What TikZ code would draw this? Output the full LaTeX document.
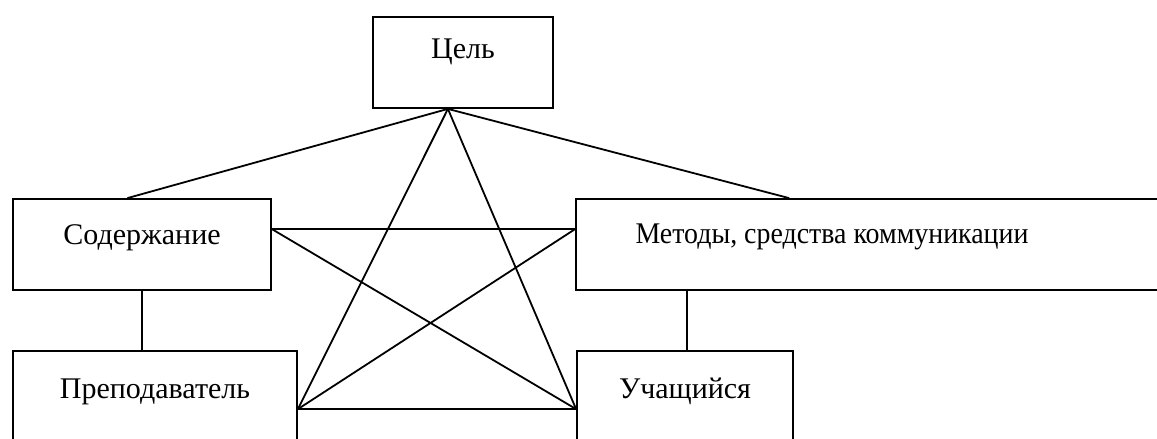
\documentclass[tikz,border=0pt]{standalone}
\usepackage{fontspec}
\setmainfont{Liberation Serif}
\usetikzlibrary{calc}
\begin{document}
\begin{tikzpicture}[x=1pt,y=-1pt,
  box/.style={draw,line width=1.8pt,rectangle,inner sep=0pt,minimum height=91pt,
    font=\fontsize{30}{32}\selectfont,text height=20pt,text depth=20pt},
  lbl/.style={inner sep=0pt,font=\fontsize{30}{32}\selectfont,anchor=base},
  link/.style={line width=1.8pt}]
\useasboundingbox (0,0) rectangle (1157,439);
\clip (0,0) rectangle (1157,439);
\node[box,minimum width=180pt,text depth=28pt] (c) at (463,62.5) {Цель};
\node[box,minimum width=258pt] (s) at (142,244.5) {Содержание};
\node[box,minimum width=594pt] (m) at (873,244.5) {};
\node[lbl] (mt) at (832,243) {\scalebox{0.93}[1]{Методы, средства коммуникации}};
\node[box,minimum width=284pt,minimum height=94pt] (p) at (155,398) {Преподаватель};
\node[box,minimum width=216pt,minimum height=94pt] (u) at (685,398) {Учащийся};
\coordinate (apex) at ($(c.south west)!0.417!(c.south east)$);
\coordinate (stop) at ($(s.north west)!0.444!(s.north east)$);
\coordinate (mtop) at ($(m.north west)+(214,0)$);
\coordinate (sr) at ($(s.north east)+(0,31)$);
\coordinate (ml) at ($(m.north west)+(0,31)$);
\coordinate (pr) at ($(p.north east)+(0,59)$);
\coordinate (ul) at ($(u.north west)+(0,59)$);
\coordinate (mb) at ($(m.south west)+(112,0)$);
\draw[link] (apex) -- (stop);
\draw[link] (apex) -- (mtop);
\draw[link] (apex) -- (pr);
\draw[link] (apex) -- (ul);
\draw[link] (sr) -- (ml);
\draw[link] (sr) -- (ul);
\draw[link] (ml) -- (pr);
\draw[link] (pr) -- (ul);
\draw[link] (s.south) -- (s.south |- p.north);
\draw[link] (mb) -- (mb |- u.north);
\end{tikzpicture}
\end{document}
